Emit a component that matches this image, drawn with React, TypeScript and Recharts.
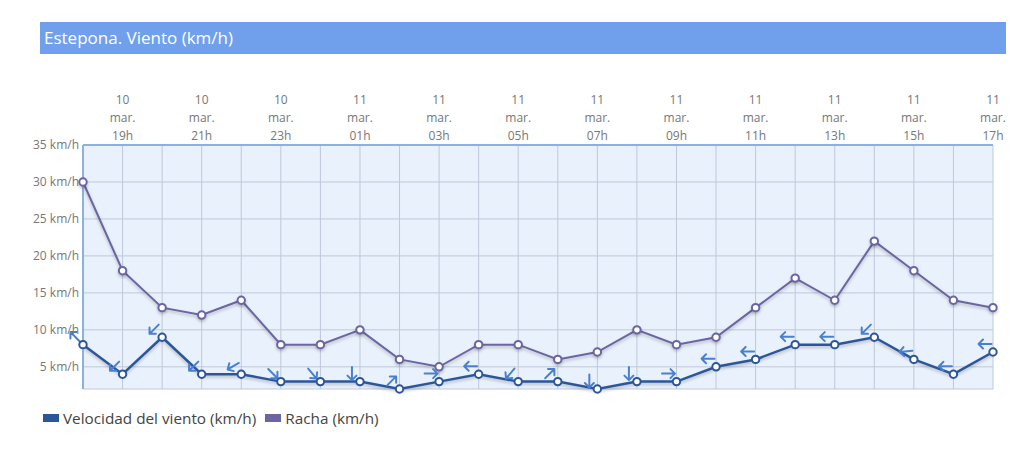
import { LineChart, Line, XAxis, YAxis, CartesianGrid } from "recharts";

// hourly readings, 10 mar 18h -> 11 mar 17h
const hours = [
  "18h", "19h", "20h", "21h", "22h", "23h", "00h", "01h", "02h", "03h", "04h", "05h",
  "06h", "07h", "08h", "09h", "10h", "11h", "12h", "13h", "14h", "15h", "16h", "17h",
];
const days = [
  "10", "10", "10", "10", "10", "10", "11", "11", "11", "11", "11", "11",
  "11", "11", "11", "11", "11", "11", "11", "11", "11", "11", "11", "11",
];
const wind = [8, 4, 9, 4, 4, 3, 3, 3, 2, 3, 4, 3, 3, 2, 3, 3, 5, 6, 8, 8, 9, 6, 4, 7];
const gust = [30, 18, 13, 12, 14, 8, 8, 10, 6, 5, 8, 8, 6, 7, 10, 8, 9, 13, 17, 14, 22, 18, 14, 13];
// arrow heading on screen, degrees (0 = right, 90 = down)
const windArrow = [
  -135, 135, 135, 135, 150, 45, 50, 90, -45, 0, 180, 130,
  -45, 90, 90, 0, 180, 180, 180, 180, 135, 175, 180, 180,
];
const yTicks = [5, 10, 15, 20, 25, 30, 35];

const WIND_COLOR = "#2b579a";
const GUST_COLOR = "#6b65a3";
const ARROW_COLOR = "#4a80d2";
const BORDER = { stroke: "#8cb0e4", strokeWidth: 2 };

const data = hours.map((h, i) => ({ hour: h, wind: wind[i], gust: gust[i] }));

const DateTick = (props: any) => {
  const { x, y, payload } = props;
  const i = hours.indexOf(payload.value);
  if (i % 2 === 0) return <g />;
  return (
    <text x={x} textAnchor="middle" fill="#777" fontSize={12}>
      <tspan x={x} y={y - 41}>{days[i]}</tspan>
      <tspan x={x} y={y - 23}>mar.</tspan>
      <tspan x={x} y={y - 5}>{hours[i]}</tspan>
    </text>
  );
};

const renderWindDot = (props: any) => {
  const { cx, cy, index } = props;
  return (
    <g key={`w-${index}`}>
      <g transform={`translate(${cx - 8},${cy - 8}) rotate(${windArrow[index]})`}>
        <path
          d="M-6.5,0 L6.5,0 M2,-4.5 L6.5,0 L2,4.5"
          stroke={ARROW_COLOR}
          strokeWidth={2}
          fill="none"
          strokeLinecap="round"
          strokeLinejoin="round"
        />
      </g>
      <circle cx={cx} cy={cy} r={3.7} fill="#fff" stroke={WIND_COLOR} strokeWidth={2} />
    </g>
  );
};

export default function App() {
  return (
    <div
      style={{
        position: "absolute",
        top: 0,
        left: 0,
        width: 1030,
        height: 455,
        background: "#fff",
        fontFamily: "'Open Sans', sans-serif",
      }}
    >
      {/* Title bar */}
      <div
        style={{
          position: "absolute",
          left: 40,
          top: 22,
          width: 966,
          height: 32,
          background: "#70a0eb",
          color: "#fff",
          fontSize: 17,
          lineHeight: "32px",
          paddingLeft: 4,
          boxSizing: "border-box",
        }}
      >
        Estepona. Viento (km/h)
      </div>

      <div style={{ position: "absolute", left: 0, top: 0 }}>
        <LineChart width={1030} height={400} data={data} margin={{ top: 90, right: 37, bottom: 11, left: 0 }}>
          <CartesianGrid stroke="#bfc8da" fill="#e9f1fc" />
          <XAxis
            dataKey="hour"
            orientation="top"
            height={55}
            interval={0}
            axisLine={BORDER}
            tickLine={false}
            tickSize={0}
            tickMargin={0}
            tick={<DateTick />}
          />
          {/* bottom edge of the plot frame */}
          <XAxis
            xAxisId="bottom"
            dataKey="hour"
            orientation="bottom"
            height={0}
            axisLine={BORDER}
            tick={false}
            tickLine={false}
          />
          <YAxis
            domain={[2, 35]}
            ticks={yTicks}
            width={83}
            axisLine={BORDER}
            tickLine={false}
            tickSize={4}
            tickMargin={0}
            tick={{ fill: "#777", fontSize: 12 }}
            tickFormatter={(v) => `${v} km/h`}
          />
          {/* right edge of the plot frame */}
          <YAxis
            yAxisId="right"
            orientation="right"
            domain={[2, 35]}
            width={0}
            axisLine={BORDER}
            tick={false}
            tickLine={false}
          />
          <Line
            dataKey="gust"
            stroke={GUST_COLOR}
            strokeWidth={2}
            dot={{ r: 3.7, fill: "#fff", stroke: GUST_COLOR, strokeWidth: 2 }}
            style={{ filter: "drop-shadow(0px 2px 1.5px rgba(0,0,0,0.22))" }}
            isAnimationActive={false}
          />
          <Line
            dataKey="wind"
            stroke={WIND_COLOR}
            strokeWidth={2.5}
            dot={renderWindDot}
            style={{ filter: "drop-shadow(0px 2px 1.5px rgba(0,0,0,0.22))" }}
            isAnimationActive={false}
          />
        </LineChart>
      </div>

      {/* Legend */}
      <div
        style={{
          position: "absolute",
          left: 43,
          top: 408,
          display: "flex",
          alignItems: "center",
          fontSize: 15.3,
          color: "#444",
          whiteSpace: "nowrap",
        }}
      >
        <span style={{ display: "inline-block", width: 16, height: 8, background: WIND_COLOR, marginRight: 4 }} />
        <span style={{ marginRight: 9 }}>Velocidad del viento (km/h)</span>
        <span style={{ display: "inline-block", width: 16, height: 8, background: GUST_COLOR, marginRight: 4 }} />
        <span>Racha (km/h)</span>
      </div>
    </div>
  );
}
